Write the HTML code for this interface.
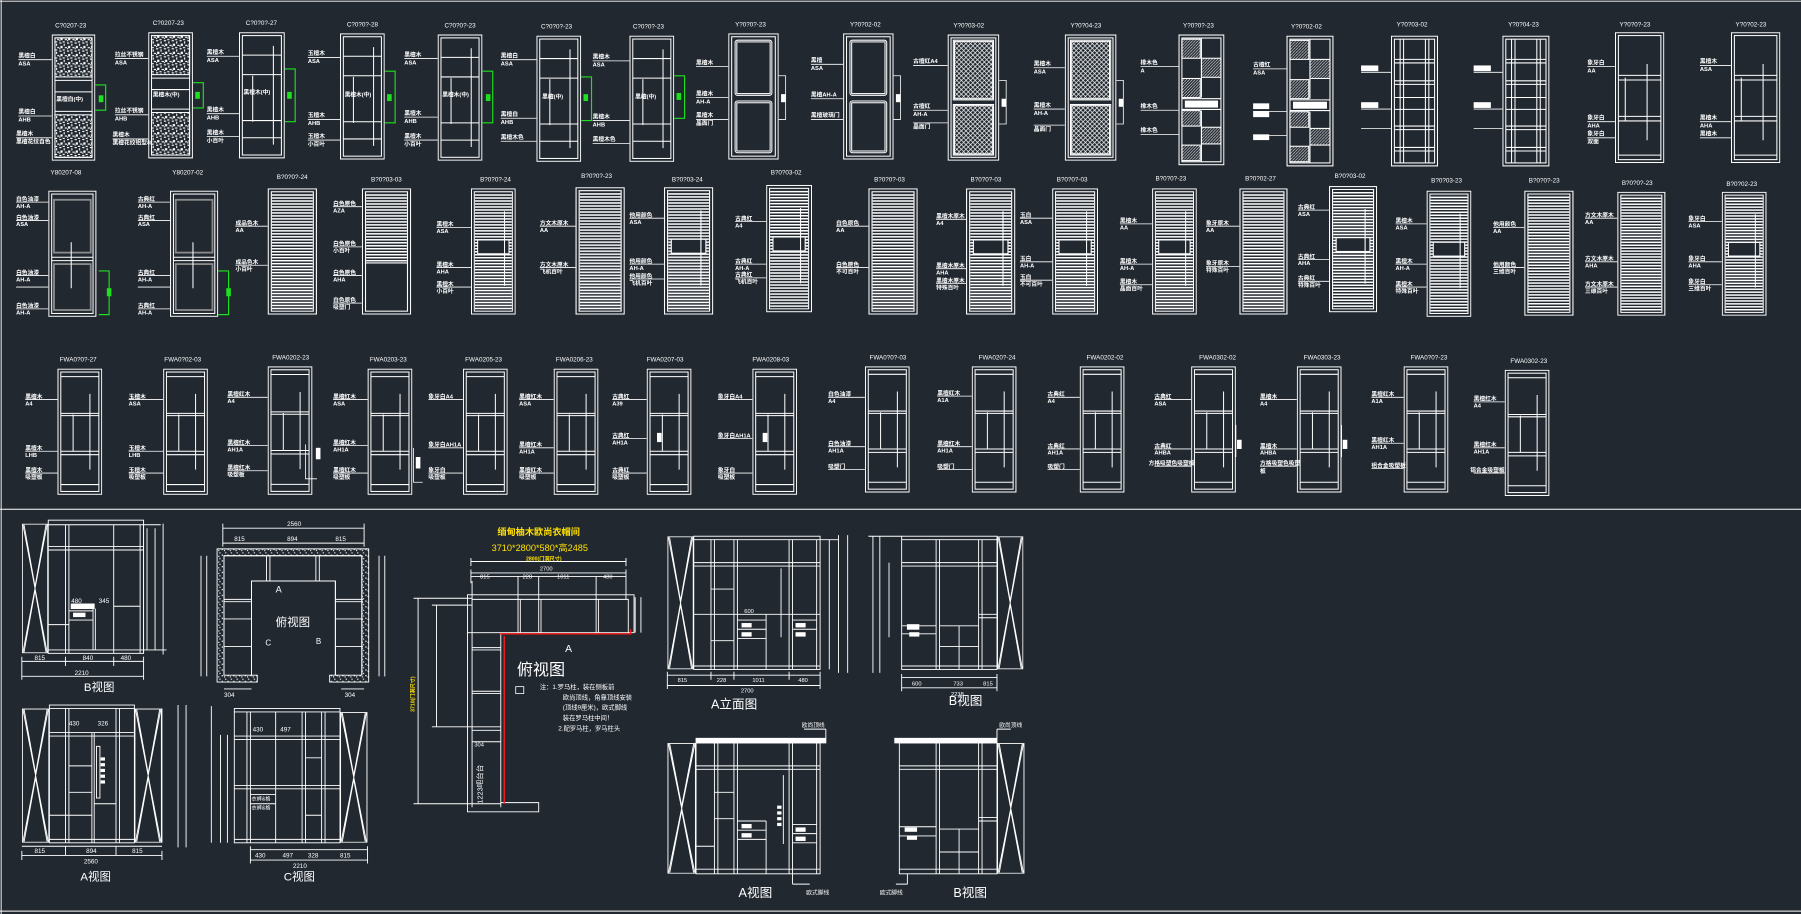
<!DOCTYPE html>
<html><head><meta charset="utf-8"><style>
html,body{margin:0;padding:0;background:#212830;}
svg{display:block}
text{font-family:"Liberation Sans","Noto Sans CJK SC",sans-serif;fill:#fff;}
</style></head><body>
<svg width="1801" height="914" viewBox="0 0 1568 796" preserveAspectRatio="none" xmlns="http://www.w3.org/2000/svg">
<defs>
<pattern id="stp" width="6" height="2.6" patternUnits="userSpaceOnUse"><rect width="6" height="1.3" fill="#fff"/></pattern>
<pattern id="ptex" width="7" height="7" patternUnits="userSpaceOnUse"><rect x="0" y="0" width="2" height="1" fill="#fff"/><rect x="4" y="1" width="1" height="2" fill="#fff"/><rect x="1" y="3" width="2" height="2" fill="#fff"/><rect x="5" y="4" width="2" height="1" fill="#fff"/><rect x="3" y="6" width="2" height="1" fill="#fff"/><rect x="0" y="5" width="1" height="1" fill="#fff"/></pattern>
<pattern id="plat" width="4" height="4" patternUnits="userSpaceOnUse"><path d="M0 0L4 4M4 0L0 4" stroke="#fff" stroke-width="0.6"/></pattern>
<pattern id="hat" width="2.5" height="2.5" patternUnits="userSpaceOnUse"><path d="M0 2.5L2.5 0" stroke="#fff" stroke-width="0.5"/></pattern>
<pattern id="dot" width="5" height="5" patternUnits="userSpaceOnUse"><rect x="1" y="1" width="1" height="1" fill="#fff"/><rect x="3" y="3" width="1.2" height="1" fill="#fff"/><rect x="0" y="4" width="1" height="1" fill="#fff"/></pattern>

<symbol id="frame" viewBox="0 0 40 110" preserveAspectRatio="none"><g fill="none" stroke="#fff" stroke-width="0.9">
<rect x="0.5" y="0.5" width="39" height="109"/><rect x="3" y="3" width="34" height="104"/>
<path d="M3 20H37M3 37H37M3 77H37M3 92H37M30 12V98M12 38V78"/></g></symbol>

<symbol id="sTex" viewBox="0 0 40 110" preserveAspectRatio="none"><g fill="none" stroke="#fff" stroke-width="0.9">
<rect x="0.5" y="0.5" width="39" height="109"/><rect x="3" y="3" width="34" height="104"/>
<rect x="3" y="3" width="34" height="34" fill="url(#ptex)"/><rect x="3" y="70" width="34" height="37" fill="url(#ptex)"/>
<path d="M3 40H37M3 50H37M3 67H37"/></g></symbol>

<symbol id="pan2" viewBox="0 0 44 110" preserveAspectRatio="none"><g fill="none" stroke="#fff" stroke-width="0.9">
<rect x="0.5" y="0.5" width="43" height="109"/><rect x="3" y="3" width="38" height="104"/>
<rect x="6" y="6" width="32" height="48" rx="2"/><rect x="7.5" y="7.5" width="29" height="45"/>
<rect x="6" y="59" width="32" height="45" rx="2"/><rect x="7.5" y="60.5" width="29" height="42"/></g></symbol>

<symbol id="pan2g" viewBox="0 0 42 110" preserveAspectRatio="none"><g fill="none" stroke="#fff" stroke-width="0.9">
<rect x="0.5" y="0.5" width="41" height="109"/><rect x="3" y="3" width="36" height="104"/>
<rect x="5" y="8" width="32" height="46" stroke="#8a8a8a" stroke-width="1.6"/><rect x="5" y="64" width="32" height="40" stroke="#8a8a8a" stroke-width="1.6"/>
<path d="M3 58H39M3 61H39M20 45V85"/></g></symbol>

<symbol id="lou" viewBox="0 0 40 110" preserveAspectRatio="none"><g fill="none" stroke="#fff" stroke-width="0.9">
<rect x="0.5" y="0.5" width="39" height="109"/><rect x="3" y="3" width="34" height="104"/>
<rect x="3.5" y="4" width="33" height="102" fill="url(#stp)" stroke="none"/></g></symbol>

<symbol id="louh" viewBox="0 0 40 110" preserveAspectRatio="none"><g fill="none" stroke="#fff" stroke-width="0.9">
<rect x="0.5" y="0.5" width="39" height="109"/><rect x="3" y="3" width="34" height="104"/>
<rect x="3.5" y="4" width="33" height="60" fill="url(#stp)" stroke="none"/><path d="M3 65H37"/></g></symbol>

<symbol id="loub" viewBox="0 0 40 110" preserveAspectRatio="none"><g fill="none" stroke="#fff" stroke-width="0.9">
<rect x="0.5" y="0.5" width="39" height="109"/><rect x="3" y="3" width="34" height="104"/>
<rect x="3.5" y="4" width="33" height="102" fill="url(#stp)" stroke="none"/>
<rect x="6" y="45" width="28" height="12" fill="#212830"/><path d="M30 20V85"/></g></symbol>

<symbol id="sLat" viewBox="0 0 45 110" preserveAspectRatio="none"><g fill="none" stroke="#fff" stroke-width="0.9">
<rect x="0.5" y="0.5" width="44" height="109"/><rect x="3" y="3" width="39" height="104"/>
<rect x="6" y="6" width="33" height="50" fill="url(#plat)"/><rect x="6" y="62" width="33" height="42" fill="url(#plat)"/>
<rect x="5" y="5" width="35" height="52"/><rect x="5" y="61" width="35" height="44"/></g></symbol>

<symbol id="chk" viewBox="0 0 40 110" preserveAspectRatio="none"><g fill="none" stroke="#fff" stroke-width="0.9">
<rect x="0.5" y="0.5" width="39" height="109"/><rect x="3" y="3" width="34" height="104"/>
<rect x="3" y="4" width="16" height="16" fill="url(#hat)"/><rect x="20" y="20" width="17" height="16" fill="url(#hat)"/><rect x="3" y="37" width="16" height="16" fill="url(#hat)"/>
<rect x="3" y="64" width="16" height="13" fill="url(#hat)"/><rect x="20" y="78" width="17" height="14" fill="url(#hat)"/><rect x="3" y="93" width="16" height="13" fill="url(#hat)"/>
<path d="M20 3V53M20 64V107M3 54H37M3 63H37"/><rect x="6" y="56" width="28" height="5" fill="#fff"/></g></symbol>

<symbol id="grd" viewBox="0 0 41 110" preserveAspectRatio="none"><g fill="none" stroke="#fff" stroke-width="0.9">
<rect x="0.5" y="0.5" width="40" height="109"/><rect x="3" y="3" width="35" height="104"/>
<path d="M8 3V107M11 3V107M30 3V107M33 3V107M3 20H38M3 23H38M3 38H38M3 41H38M3 52H38M3 62H38M3 76H38M3 79H38M3 94H38M3 97H38"/></g></symbol>

<symbol id="pln" viewBox="0 0 43 115" preserveAspectRatio="none"><g fill="none" stroke="#fff" stroke-width="0.9">
<rect x="0.5" y="0.5" width="42" height="114"/><rect x="3" y="3" width="37" height="109"/>
<path d="M3 38H40M3 42H40M3 74H40M3 78H40M3 108H40M28 28V95M9 40V78"/></g></symbol>

<symbol id="r3" viewBox="0 0 40 110" preserveAspectRatio="none"><g fill="none" stroke="#fff" stroke-width="0.9">
<rect x="0.5" y="0.5" width="39" height="109"/><rect x="3" y="3" width="34" height="104"/>
<path d="M3 7H37M3 39H37M3 41H37M3 72H37M3 75H37M3 101H37M29 22V88M14 40V72"/></g></symbol>

<symbol id="xp" viewBox="0 0 24 120" preserveAspectRatio="none"><g fill="none" stroke="#fff" stroke-width="0.8" vector-effect="non-scaling-stroke">
<rect x="0.5" y="0.5" width="23" height="119"/><path d="M1 1L12 60L23 1M1 119L12 60L23 119M2 1L12 58L22 1M2 119L12 62L22 119"/></g></symbol>
</defs>

<rect width="1568" height="796" fill="#212830"/>
<g stroke="#fff" stroke-width="0.8" fill="none">
<path d="M0 1H1568M1 0V796M0 443.5H1568M0 793.5H1568"/>
</g>

<!-- ROW 1 -->
<use href="#sTex" x="45" y="30" width="38" height="110"/>
<use href="#sTex" x="129" y="28" width="39" height="110"/>
<use href="#frame" x="208" y="28" width="40" height="110"/>
<use href="#frame" x="296" y="29" width="39" height="110"/>
<use href="#frame" x="381" y="30" width="39" height="110"/>
<use href="#frame" x="467" y="31" width="39" height="110"/>
<use href="#frame" x="548" y="31" width="39" height="110"/>
<use href="#pan2" x="634" y="29" width="44" height="110"/>
<use href="#pan2" x="734" y="29" width="44" height="110"/>
<use href="#sLat" x="825" y="30" width="45" height="110"/>
<use href="#sLat" x="927" y="30" width="45" height="110"/>
<use href="#chk" x="1026" y="30" width="40" height="114"/>
<use href="#chk" x="1120" y="31" width="41" height="114"/>
<use href="#grd" x="1211" y="31" width="41" height="114"/>
<use href="#grd" x="1308" y="31" width="41" height="114"/>
<use href="#pln" x="1406" y="28" width="43" height="114"/>
<use href="#pln" x="1507" y="28" width="43" height="114"/>
<!-- green brackets -->
<g stroke="#1fe01f" stroke-width="1" fill="none">
<path d="M83 74H92V96H83"/><path d="M168 72H177V94H168"/><path d="M248 60H257V106H248"/><path d="M335 62H344V107H335"/><path d="M420 62H429V107H420"/><path d="M506 67H515V105H506"/><path d="M587 66H596V103H587"/>
<path d="M86 236H95V274H86"/><path d="M190 236H199V274H190"/>
</g>
<g fill="#1fe01f"><rect x="86" y="83" width="4" height="6"/><rect x="170" y="80" width="4" height="6"/><rect x="250" y="80" width="4" height="6"/><rect x="337" y="82" width="4" height="6"/><rect x="423" y="82" width="4" height="6"/><rect x="508" y="82" width="4" height="6"/><rect x="589" y="81" width="4" height="6"/><rect x="93" y="251" width="4" height="7"/><rect x="197" y="251" width="4" height="7"/></g>
<g stroke="#fff" stroke-width="0.7" fill="none"><path d="M678 66H684V104H678M778 66H784V104H778M870 70H876V108H870M972 70H978V108H972"/></g>
<g fill="#fff"><rect x="680" y="82" width="4" height="7"/><rect x="780" y="82" width="4" height="7"/><rect x="872" y="86" width="4" height="7"/><rect x="974" y="86" width="4" height="7"/></g>

<g font-size="5.5">
<text x="48" y="24">C?0207-23</text><text x="133" y="22">C?0207-23</text><text x="214" y="22">C?0?0?-27</text><text x="302" y="23">C?0?0?-28</text><text x="387" y="24">C?0?0?-23</text><text x="471" y="25">C?0?0?-23</text><text x="551" y="25">C?0?0?-23</text><text x="640" y="23">Y?0?0?-23</text><text x="740" y="23">Y?0?02-02</text><text x="830" y="24">Y?0?03-02</text><text x="932" y="24">Y?0?04-23</text><text x="1030" y="24">Y?0?0?-23</text><text x="1124" y="25">Y?0?02-02</text><text x="1216" y="23">Y?0?03-02</text><text x="1313" y="23">Y?0?04-23</text><text x="1410" y="23">Y?0?0?-23</text><text x="1511" y="23">Y?0?02-23</text>
</g>
<!-- row1 leaders/labels -->
<g stroke="#fff" stroke-width="0.7" fill="none">
<path d="M16 52H45M16 101H45M14 120H45M100 51H129M100 100H129M98 121H129M180 49H208M180 99H208M180 119H208M268 50H296M268 104H296M268 122H296M352 51H381M352 102H381M352 122H381M436 52H467M436 103H467M436 123H467M516 53H548M516 105H548M516 125H548M606 58H634M606 85H634M606 104H634M706 56H734M706 86H734M706 104H734M795 57H825M795 96H825M795 107H825M900 59H927M900 95H927M900 109H927M993 58H1026M993 96H1026M993 117H1026M1091 60H1120M1091 97H1120M1091 118H1120M1185 63H1211M1185 95H1211M1185 112H1211M1283 63H1308M1283 95H1308M1283 112H1308M1382 58H1406M1382 106H1406M1382 120H1406M1480 57H1507M1480 106H1507M1480 120H1507"/>
</g>
<g font-size="5" font-weight="bold">
<text x="16" y="50">黑檀白</text><text x="16" y="57">ASA</text><text x="16" y="99">黑檀白</text><text x="16" y="106">AHB</text><text x="14" y="118">黑檀木</text><text x="14" y="125">黑檀花纹自色</text>
<text x="100" y="49">拉丝不锈钢</text><text x="100" y="56">ASA</text><text x="100" y="98">拉丝不锈钢</text><text x="100" y="105">AHB</text><text x="98" y="119">黑檀木</text><text x="98" y="126">黑檀花纹铝型材</text>
<text x="180" y="47">黑檀木</text><text x="180" y="54">ASA</text><text x="180" y="97">黑檀木</text><text x="180" y="104">AHB</text><text x="180" y="117">黑檀木</text><text x="180" y="124">小百叶</text>
<text x="268" y="48">玉檀木</text><text x="268" y="55">ASA</text><text x="268" y="102">玉檀木</text><text x="268" y="109">AHB</text><text x="268" y="120">玉檀木</text><text x="268" y="127">小百叶</text>
<text x="352" y="49">黑檀木</text><text x="352" y="56">ASA</text><text x="352" y="100">黑檀木</text><text x="352" y="107">AHB</text><text x="352" y="120">黑檀木</text><text x="352" y="127">小百叶</text>
<text x="436" y="50">黑檀白</text><text x="436" y="57">ASA</text><text x="436" y="101">黑檀白</text><text x="436" y="108">AHB</text><text x="436" y="121">黑檀木色</text>
<text x="516" y="51">黑檀木</text><text x="516" y="58">ASA</text><text x="516" y="103">黑檀木</text><text x="516" y="110">AHB</text><text x="516" y="123">黑檀木色</text>
<text x="606" y="56">黑檀木</text><text x="606" y="83">黑檀木</text><text x="606" y="90">AH-A</text><text x="606" y="102">黑檀木</text><text x="606" y="109">晶面门</text>
<text x="706" y="54">黑檀</text><text x="706" y="61">ASA</text><text x="706" y="84">黑檀AH-A</text><text x="706" y="102">黑檀玻璃门</text>
<text x="795" y="55">古檀红A4</text><text x="795" y="94">古檀红</text><text x="795" y="101">AH-A</text><text x="795" y="112">晶面门</text>
<text x="900" y="57">黑檀木</text><text x="900" y="64">ASA</text><text x="900" y="93">黑檀木</text><text x="900" y="100">AH-A</text><text x="900" y="114">晶面门</text>
<text x="993" y="56">橡木色</text><text x="993" y="63">A</text><text x="993" y="94">橡木色</text><text x="993" y="115">橡木色</text>
<text x="1091" y="58">古檀红</text><text x="1091" y="65">ASA</text><text x="1382" y="56">象牙白</text><text x="1382" y="63">AA</text><text x="1382" y="104">象牙白</text><text x="1382" y="111">AHA</text><text x="1382" y="118">象牙白</text><text x="1382" y="125">双面</text>
<text x="1480" y="55">黑檀木</text><text x="1480" y="62">ASA</text><text x="1480" y="104">黑檀木</text><text x="1480" y="111">AHA</text><text x="1480" y="118">黑檀木</text>
</g>
<g fill="#fff"><rect x="1185" y="57" width="15" height="5"/><rect x="1185" y="89" width="15" height="5"/><rect x="1283" y="57" width="15" height="5"/><rect x="1283" y="89" width="15" height="5"/><rect x="1091" y="90" width="14" height="5"/><rect x="1091" y="97" width="14" height="5"/><rect x="1091" y="117" width="14" height="5"/></g>
<g font-size="5" font-weight="bold"><text x="49" y="88">黑檀白(中)</text><text x="133" y="84">黑檀木(中)</text><text x="212" y="82">黑檀木(中)</text><text x="300" y="84">黑檀木(中)</text><text x="385" y="84">黑檀木(中)</text><text x="472" y="86">黑檀(中)</text><text x="553" y="86">黑檀(中)</text></g>

<!-- ROW 2 -->
<use href="#pan2g" x="42" y="166" width="42" height="110"/>
<use href="#pan2g" x="148" y="166" width="42" height="110"/>
<use href="#lou" x="233" y="164" width="43" height="110"/>
<use href="#louh" x="315" y="164" width="43" height="110"/>
<use href="#loub" x="410" y="164" width="39" height="110"/>
<use href="#lou" x="501" y="163" width="43" height="111"/>
<use href="#loub" x="578" y="163" width="43" height="111"/>
<use href="#loub" x="667" y="161" width="40" height="111"/>
<use href="#lou" x="756" y="164" width="43" height="110"/>
<use href="#loub" x="841" y="164" width="43" height="110"/>
<use href="#loub" x="916" y="164" width="40" height="110"/>
<use href="#loub" x="1003" y="164" width="39" height="110"/>
<use href="#lou" x="1079" y="164" width="42" height="110"/>
<use href="#loub" x="1157" y="162" width="42" height="110"/>
<use href="#loub" x="1242" y="166" width="39" height="110"/>
<use href="#lou" x="1327" y="166" width="43" height="109"/>
<use href="#lou" x="1408" y="167" width="42" height="108"/>
<use href="#loub" x="1499" y="167" width="39" height="108"/>
<g font-size="5.5">
<text x="44" y="152">Y80207-08</text><text x="150" y="152">Y80207-02</text><text x="241" y="156">B?0?0?-24</text><text x="323" y="158">B?0?03-03</text><text x="418" y="158">B?0?0?-24</text><text x="506" y="155">B?0?0?-23</text><text x="585" y="158">B?0?03-24</text><text x="671" y="152">B?0?03-02</text><text x="761" y="158">B?0?0?-03</text><text x="845" y="158">B?0?0?-03</text><text x="920" y="158">B?0?0?-03</text><text x="1006" y="157">B?0?0?-23</text><text x="1084" y="157">B?0?02-27</text><text x="1162" y="155">B?0?03-02</text><text x="1246" y="159">B?0?03-23</text><text x="1331" y="159">B?0?0?-23</text><text x="1412" y="161">B?0?0?-23</text><text x="1503" y="162">B?0?02-23</text>
</g>
<g stroke="#fff" stroke-width="0.7" fill="none">
<path d="M14 176H42M14 192H42M14 240H42M14 250H42M14 269H42M120 176H148M120 192H148M120 240H148M120 250H148M120 269H148M205 197H233M205 231H233M290 180H315M290 215H315M290 240H315M290 264H315M380 198H410M380 233H410M380 250H410M470 197H501M470 233H501M548 190H578M548 230H578M548 243H578M640 193H667M640 230H667M640 242H667M728 197H756M728 233H756M815 191H841M815 234H841M815 247H841M888 190H916M888 228H916M888 244H916M975 195H1003M975 230H1003M975 248H1003M1050 197H1079M1050 232H1079M1130 183H1157M1130 226H1157M1130 245H1157M1215 195H1242M1215 230H1242M1215 250H1242M1300 198H1327M1300 233H1327M1380 190H1408M1380 228H1408M1380 250H1408M1470 193H1499M1470 228H1499M1470 248H1499"/>
</g>
<g font-size="5" font-weight="bold">
<text x="14" y="175">白色油漆</text><text x="14" y="181">AH-A</text><text x="14" y="191">白色油漆</text><text x="14" y="197">ASA</text><text x="14" y="239">白色油漆</text><text x="14" y="245">AH-A</text><text x="14" y="268">白色油漆</text><text x="14" y="274">AH-A</text>
<text x="120" y="175">古典红</text><text x="120" y="181">AH-A</text><text x="120" y="191">古典红</text><text x="120" y="197">ASA</text><text x="120" y="239">古典红</text><text x="120" y="245">AH-A</text><text x="120" y="268">古典红</text><text x="120" y="274">AH-A</text>
<text x="205" y="196">成品色木</text><text x="205" y="202">AA</text><text x="205" y="230">成品色木</text><text x="205" y="236">小百叶</text>
<text x="290" y="179">白色原色</text><text x="290" y="185">AZA</text><text x="290" y="214">白色原色</text><text x="290" y="220">小百叶</text><text x="290" y="239">白色原色</text><text x="290" y="245">AHA</text><text x="290" y="263">白色原色</text><text x="290" y="269">吸塑门</text>
<text x="380" y="197">黑檀木</text><text x="380" y="203">ASA</text><text x="380" y="232">黑檀木</text><text x="380" y="238">AHA</text><text x="380" y="249">黑檀木</text><text x="380" y="255">小百叶</text>
<text x="470" y="196">方文木原木</text><text x="470" y="202">AA</text><text x="470" y="232">方文木原木</text><text x="470" y="238">飞机百叶</text>
<text x="548" y="189">他用颜色</text><text x="548" y="195">ASA</text><text x="548" y="229">他用颜色</text><text x="548" y="235">AH-A</text><text x="548" y="242">他用颜色</text><text x="548" y="248">飞机百叶</text>
<text x="640" y="192">古典红</text><text x="640" y="198">A4</text><text x="640" y="229">古典红</text><text x="640" y="235">AH-A</text><text x="640" y="241">古典红</text><text x="640" y="247">飞机百叶</text>
<text x="728" y="196">白色原色</text><text x="728" y="202">AA</text><text x="728" y="232">白色原色</text><text x="728" y="238">不可百叶</text>
<text x="815" y="190">黑檀木原木</text><text x="815" y="196">A4</text><text x="815" y="233">黑檀木原木</text><text x="815" y="239">AHA</text><text x="815" y="246">黑檀木原木</text><text x="815" y="252">特殊百叶</text>
<text x="888" y="189">玉白</text><text x="888" y="195">ASA</text><text x="888" y="227">玉白</text><text x="888" y="233">AH-A</text><text x="888" y="243">玉白</text><text x="888" y="249">不可百叶</text>
<text x="975" y="194">黑檀木</text><text x="975" y="200">AA</text><text x="975" y="229">黑檀木</text><text x="975" y="235">AH-A</text><text x="975" y="247">黑檀木</text><text x="975" y="253">晶面百叶</text>
<text x="1050" y="196">象牙原木</text><text x="1050" y="202">AA</text><text x="1050" y="231">象牙原木</text><text x="1050" y="237">特殊百叶</text>
<text x="1130" y="182">古典红</text><text x="1130" y="188">ASA</text><text x="1130" y="225">古典红</text><text x="1130" y="231">AHA</text><text x="1130" y="244">古典红</text><text x="1130" y="250">特殊百叶</text>
<text x="1215" y="194">黑檀木</text><text x="1215" y="200">ASA</text><text x="1215" y="229">黑檀木</text><text x="1215" y="235">AH-A</text><text x="1215" y="249">黑檀木</text><text x="1215" y="255">特殊百叶</text>
<text x="1300" y="197">他用颜色</text><text x="1300" y="203">AA</text><text x="1300" y="232">他用颜色</text><text x="1300" y="238">三维百叶</text>
<text x="1380" y="189">方文木原木</text><text x="1380" y="195">AA</text><text x="1380" y="227">方文木原木</text><text x="1380" y="233">AHA</text><text x="1380" y="249">方文木原木</text><text x="1380" y="255">三维百叶</text>
<text x="1470" y="192">象牙白</text><text x="1470" y="198">ASA</text><text x="1470" y="227">象牙白</text><text x="1470" y="233">AHA</text><text x="1470" y="247">象牙白</text><text x="1470" y="253">三维百叶</text>
</g>

<!-- ROW 3 -->
<g>
<use href="#r3" x="50" y="321" width="39" height="110"/><use href="#r3" x="142" y="321" width="39" height="110"/><use href="#r3" x="233" y="319" width="39" height="112"/><use href="#r3" x="320" y="321" width="39" height="110"/><use href="#r3" x="403" y="321" width="39" height="110"/><use href="#r3" x="482" y="321" width="39" height="110"/><use href="#r3" x="563" y="321" width="39" height="110"/><use href="#r3" x="655" y="321" width="39" height="110"/><use href="#r3" x="753" y="319" width="39" height="110"/><use href="#r3" x="846" y="319" width="39" height="110"/><use href="#r3" x="940" y="319" width="39" height="110"/><use href="#r3" x="1037" y="319" width="39" height="110"/><use href="#r3" x="1129" y="319" width="39" height="110"/><use href="#r3" x="1222" y="319" width="39" height="110"/><use href="#r3" x="1310" y="322" width="39" height="110"/>
</g>
<g font-size="5.5">
<text x="52" y="315">FWA0?0?-27</text><text x="143" y="315">FWA0?02-03</text><text x="237" y="313">FWA0202-23</text><text x="322" y="315">FWA0203-23</text><text x="405" y="315">FWA0205-23</text><text x="484" y="315">FWA0206-23</text><text x="563" y="315">FWA0207-03</text><text x="655" y="315">FWA0208-03</text><text x="757" y="313">FWA0?0?-03</text><text x="852" y="313">FWA020?-24</text><text x="946" y="313">FWA0202-02</text><text x="1044" y="313">FWA0302-02</text><text x="1135" y="313">FWA0303-23</text><text x="1228" y="313">FWA0?0?-23</text><text x="1315" y="316">FWA0302-23</text>
</g>
<g stroke="#fff" stroke-width="0.7" fill="none">
<path d="M22 348H50M22 393H50M22 412H50M112 348H142M112 393H142M112 412H142M198 346H233M198 388H233M198 410H233M290 348H320M290 388H320M290 412H320M373 348H403M373 390H403M373 412H403M452 348H482M452 390H482M452 412H482M533 348H563M533 382H563M533 412H563M625 348H655M625 382H655M625 412H655M721 346H753M721 389H753M721 409H753M816 345H846M816 389H846M816 409H846M912 346H940M912 391H940M912 409H940M1005 348H1037M1005 391H1037M1005 406H1037M1097 348H1129M1097 391H1129M1097 406H1129M1194 346H1222M1194 386H1222M1194 408H1222M1283 350H1310M1283 390H1310M1283 412H1310"/>
<path d="M266 387V417H276M360 390V420H368M1076 370V398M1168 370V398"/>
</g>
<g fill="#fff"><rect x="275" y="390" width="4" height="10"/><rect x="362" y="398" width="4" height="10"/><rect x="1077" y="383" width="4" height="8"/><rect x="1169" y="383" width="4" height="8"/><rect x="664" y="377" width="4" height="8"/><rect x="572" y="377" width="4" height="8"/></g>
<g font-size="5" font-weight="bold">
<text x="22" y="347">黑檀木</text><text x="22" y="353">A4</text><text x="22" y="392">黑檀木</text><text x="22" y="398">LHB</text><text x="22" y="411">黑檀木</text><text x="22" y="417">吸塑板</text>
<text x="112" y="347">玉檀木</text><text x="112" y="353">ASA</text><text x="112" y="392">玉檀木</text><text x="112" y="398">LHB</text><text x="112" y="411">玉檀木</text><text x="112" y="417">吸塑板</text>
<text x="198" y="345">黑檀红木</text><text x="198" y="351">A4</text><text x="198" y="387">黑檀红木</text><text x="198" y="393">AH1A</text><text x="198" y="409">黑檀红木</text><text x="198" y="415">吸塑板</text>
<text x="290" y="347">黑檀红木</text><text x="290" y="353">ASA</text><text x="290" y="387">黑檀红木</text><text x="290" y="393">AH1A</text><text x="290" y="411">黑檀红木</text><text x="290" y="417">吸塑板</text>
<text x="373" y="347">象牙白A4</text><text x="373" y="389">象牙白AH1A</text><text x="373" y="411">象牙白</text><text x="373" y="417">吸塑板</text>
<text x="452" y="347">黑檀红木</text><text x="452" y="353">ASA</text><text x="452" y="389">黑檀红木</text><text x="452" y="395">AH1A</text><text x="452" y="411">黑檀红木</text><text x="452" y="417">吸塑板</text>
<text x="533" y="347">古典红</text><text x="533" y="353">A39</text><text x="533" y="381">古典红</text><text x="533" y="387">AH1A</text><text x="533" y="411">古典红</text><text x="533" y="417">吸塑板</text>
<text x="625" y="347">象牙白A4</text><text x="625" y="381">象牙白AH1A</text><text x="625" y="411">象牙白</text><text x="625" y="417">吸塑板</text>
<text x="721" y="345">白色油漆</text><text x="721" y="351">A4</text><text x="721" y="388">白色油漆</text><text x="721" y="394">AH1A</text><text x="721" y="408">吸塑门</text>
<text x="816" y="344">黑檀红木</text><text x="816" y="350">A1A</text><text x="816" y="388">黑檀红木</text><text x="816" y="394">AH1A</text><text x="816" y="408">吸塑门</text>
<text x="912" y="345">古典红</text><text x="912" y="351">A4</text><text x="912" y="390">古典红</text><text x="912" y="396">AH1A</text><text x="912" y="408">吸塑门</text>
<text x="1005" y="347">古典红</text><text x="1005" y="353">ASA</text><text x="1005" y="390">古典红</text><text x="1005" y="396">AHBA</text><text x="1000" y="405">方格吸塑色吸塑板</text>
<text x="1097" y="347">黑檀木</text><text x="1097" y="353">A4</text><text x="1097" y="390">黑檀木</text><text x="1097" y="396">AHBA</text><text x="1097" y="405">方格吸塑色吸塑</text><text x="1097" y="412">板</text>
<text x="1194" y="345">黑檀红木</text><text x="1194" y="351">A1A</text><text x="1194" y="385">黑檀红木</text><text x="1194" y="391">AH1A</text><text x="1194" y="407">铝合金吸塑板</text>
<text x="1283" y="349">黑檀红木</text><text x="1283" y="355">A4</text><text x="1283" y="389">黑檀红木</text><text x="1283" y="395">AH1A</text><text x="1280" y="411">铝合金吸塑板</text>
</g>

<!-- BOTTOM LEFT: B视图 -->
<g stroke="#fff" stroke-width="0.8" fill="none">
<use href="#xp" x="19" y="456" width="23" height="113"/>
<rect x="42" y="453" width="83" height="116"/>
<path d="M42 457H125M57 457V569M60 457V569M99 457V569M122 457V569M125 457V569M42 476H125M42 479H125M99 528H122M42 544H60M42 566H125M60 532H81M60 540H81M81 530V566M83 530V566"/>
<rect x="62" y="526" width="20" height="4" fill="#fff"/><rect x="64" y="534" width="10" height="3" fill="#fff"/>
<path d="M125 457H140M128 460V566M135 460V566M142 456V570M125 566H145M19 576H125M19 589H125M19 572V592M125 572V592M57 572V580M99 572V580"/>
</g>
<g font-size="5.5"><text x="30" y="575">815</text><text x="72" y="575">840</text><text x="105" y="575">480</text><text x="65" y="588">2210</text><text x="62" y="525">480</text><text x="86" y="525">345</text></g>
<text x="73" y="602" font-size="10">B视图</text>

<!-- 俯视图 U -->
<g stroke="#fff" stroke-width="0.8" fill="none">
<path d="M189 478H321V594H287V588H292V506H219V588H224V594H189Z" fill="url(#dot)"/>
<path d="M195 484H315V588H292V506H219V588H195Z" fill="#212830"/>
<path d="M195 484H315M195 484V588M315 484V588M219 506H292M219 506V588M292 506V588M232 484V506M235 484V506M275 484V506M278 484V506M195 522H219M195 524H219M195 539H219M195 563H219M292 522H316M292 524H316M292 539H316M292 563H316"/>
<path d="M194 460H317M194 473H317M194 456V476M317 456V476M175 484V589M180 484V589M330 484V589M335 484V589M195 600H219M297 600H317"/>
</g>
<g font-size="5.5"><text x="250" y="458">2560</text><text x="204" y="471">815</text><text x="250" y="471">894</text><text x="292" y="471">815</text><text x="195" y="607">304</text><text x="300" y="607">304</text></g>
<text x="240" y="516" font-size="8">A</text><text x="240" y="545" font-size="10">俯视图</text><text x="231" y="562" font-size="7">C</text><text x="275" y="561" font-size="7">B</text>

<!-- A视图 left -->
<g stroke="#fff" stroke-width="0.8" fill="none">
<use href="#xp" x="19" y="617" width="24" height="117"/>
<use href="#xp" x="117" y="617" width="24" height="117"/>
<rect x="43" y="614" width="74" height="120"/>
<path d="M43 617H117M57 617V734M60 617V734M101 617V734M104 617V734M43 638H117M43 641H117M60 667H80M60 690H80M43 710H80M80 638V734M82 638V734M82 700H101M43 731H117M141 617V734M155 614V738M162 614V738M19 737H141M19 745H141M19 741V749M141 741V749M57 737V745M101 737V745"/>
<rect x="84" y="650" width="3" height="45"/>
<rect x="88" y="660" width="3" height="2" fill="#fff"/><rect x="88" y="665" width="3" height="2" fill="#fff"/><rect x="88" y="670" width="3" height="2" fill="#fff"/><rect x="88" y="675" width="3" height="2" fill="#fff"/><rect x="88" y="680" width="3" height="2" fill="#fff"/>
</g>
<g font-size="5.5"><text x="30" y="743">815</text><text x="75" y="743">894</text><text x="115" y="743">815</text><text x="73" y="752">2560</text><text x="60" y="632">430</text><text x="85" y="632">326</text></g>
<text x="70" y="767" font-size="10">A视图</text>

<!-- C视图 -->
<g stroke="#fff" stroke-width="0.8" fill="none">
<use href="#xp" x="296" y="620" width="24" height="114"/>
<rect x="204" y="617" width="92" height="117"/>
<path d="M204 620H296M215 620V734M218 620V734M240 620V734M263 620V734M266 620V734M280 620V734M283 620V734M204 641H296M204 644H296M204 684H296M204 687H296M266 660H280M266 710H280M218 692H240M218 700H240M204 731H296M184 615V734M192 640V734M198 640V734M218 740H320M218 749H320M218 737V752M320 737V752"/>
</g>
<g font-size="5.5"><text x="222" y="747">430</text><text x="246" y="747">497</text><text x="268" y="747">328</text><text x="296" y="747">815</text><text x="255" y="756">2210</text><text x="220" y="637">430</text><text x="244" y="637">497</text><text x="219" y="697" font-size="4.5">衣裤&amp;格</text><text x="219" y="705" font-size="4.5">衣裤&amp;格</text></g>
<text x="247" y="767" font-size="10">C视图</text>

<!-- L-plan -->
<g font-size="8" fill="#ffe000" font-weight="bold">
<text x="433" y="466" style="fill:#ffe000">缅甸柚木欧尚衣帽间</text>
<text x="428" y="480" style="fill:#ffe000" font-weight="normal">3710*2800*580*高2485</text>
<text x="458" y="488" font-size="4.5" style="fill:#ffe000">2800(门洞尺寸)</text>
<text x="361" y="620" font-size="4.5" transform="rotate(-90 361 620)" style="fill:#ffe000">3710(门洞尺寸)</text>
</g>
<g stroke="#fff" stroke-width="0.8" fill="none">
<path d="M410 489H545M410 486V493M545 486V493M410 499H545M410 502H545M410 496V508M545 496V508M411 506V522M451 502V522M469 502V522M519 502V522M545 506V522"/>
<rect x="407" y="518" width="145" height="33"/>
<path d="M411 522H547V551M411 522V703M436 551V703M451 522V551M453 522V551M469 522V551M471 522V551M519 522V551M521 522V551M407 551V707H469V699H436M411 564H436M411 566H436M411 602H436M411 604H436M411 633H436M411 636H436M411 646H436"/>
<path d="M364 521V700M360 521H411M360 700H436M380 527V633M376 527H411M376 633H411M553 520V551M558 520V551"/>
</g>
<path d="M435 552H549V548M439 554V700" stroke="#ff1a1a" stroke-width="1.2" fill="none"/>
<g font-size="5"><text x="470" y="497">2700</text><text x="418" y="504">815</text><text x="455" y="504">228</text><text x="485" y="504">1011</text><text x="525" y="504">480</text><text x="413" y="650">304</text></g>
<text x="420" y="700" font-size="6.5" transform="rotate(-90 420 700)">1223吧台台</text>
<text x="492" y="568" font-size="9">A</text>
<text x="450" y="588" font-size="14">俯视图</text>
<rect x="449" y="598" width="7" height="6" fill="none" stroke="#fff" stroke-width="0.7"/>
<g font-size="5.5">
<text x="470" y="600">注：1.罗马柱，装在侧板前</text>
<text x="490" y="609">欧尚顶线，角靠顶线安装</text>
<text x="490" y="618">(顶线9厘米)，欧式脚线</text>
<text x="490" y="627">装在罗马柱中间！</text>
<text x="486" y="636">2.配罗马柱，罗马柱头</text>
</g>

<!-- A立面图 -->
<g stroke="#fff" stroke-width="0.8" fill="none">
<use href="#xp" x="581" y="467" width="23" height="116"/>
<rect x="604" y="467" width="110" height="116"/>
<path d="M604 470H714M619 470V583M622 470V583M639 470V583M642 470V583M687 470V583M690 470V583M711 470V583M604 490H714M604 493H714M619 513H639M604 535H714M619 558H639M642 540H667M642 548H667M642 556H667M690 540H711M690 548H711M667 535V583M680 495V555M604 580H714M714 470H730M722 470V583M730 466V586M738 466V586M581 588H714M581 597H714M581 585V600M714 585V600M619 585V592M639 585V592M687 585V592"/>
<rect x="646" y="543" width="8" height="3" fill="#fff"/><rect x="646" y="551" width="8" height="3" fill="#fff"/><rect x="693" y="543" width="8" height="3" fill="#fff"/><rect x="693" y="551" width="8" height="3" fill="#fff"/>
</g>
<g font-size="5"><text x="590" y="594">815</text><text x="624" y="594">228</text><text x="655" y="594">1011</text><text x="695" y="594">480</text><text x="645" y="603">2700</text><text x="648" y="534">600</text></g>
<text x="619" y="617" font-size="11">A立面图</text>

<!-- B视图 right -->
<g stroke="#fff" stroke-width="0.8" fill="none">
<use href="#xp" x="868" y="467" width="23" height="116"/>
<rect x="785" y="467" width="83" height="116"/>
<path d="M785 470H868M815 470V583M818 470V583M852 470V583M855 470V583M785 490H868M785 493H868M818 545H852M818 563H852M835 545V583M785 545H815M785 552H815M852 535H868M852 538H868M785 580H868M756 467H785M760 467V586M766 467V586M774 490V555M785 590H868M785 599H868M785 587V602M868 587V602"/>
<rect x="790" y="544" width="10" height="4" fill="#fff"/><rect x="792" y="551" width="8" height="3" fill="#fff"/>
</g>
<g font-size="5"><text x="794" y="597">600</text><text x="830" y="597">733</text><text x="856" y="597">815</text><text x="828" y="606">2238</text></g>
<text x="826" y="614" font-size="11">B视图</text>

<!-- A视图 bottom -->
<g stroke="#fff" stroke-width="0.8" fill="none">
<rect x="606" y="643" width="113" height="4" fill="#fff"/>
<use href="#xp" x="581" y="647" width="25" height="114"/>
<rect x="606" y="647" width="108" height="114"/>
<path d="M622 647V761M625 647V761M639 647V761M642 647V761M687 647V761M690 647V761M711 647V761M606 667H714M606 670H714M622 690H639M622 713H639M606 737H622M642 715H667M642 723H667M642 731H667M690 718H711M690 726H711M690 734H711M667 715V761M682 675V735M606 757H714M719 635V643M719 635H700M690 770V761M690 770H705"/>
<rect x="646" y="718" width="8" height="3" fill="#fff"/><rect x="646" y="726" width="8" height="3" fill="#fff"/><rect x="693" y="721" width="8" height="3" fill="#fff"/><rect x="693" y="729" width="8" height="3" fill="#fff"/>
<rect x="677" y="702" width="3" height="2" fill="#fff"/><rect x="677" y="707" width="3" height="2" fill="#fff"/><rect x="677" y="712" width="3" height="2" fill="#fff"/><rect x="677" y="717" width="3" height="2" fill="#fff"/>
</g>
<text x="643" y="781" font-size="11">A视图</text><g font-size="5"><text x="698" y="633">欧尚顶线</text><text x="702" y="779">欧式脚线</text></g>

<!-- B视图 bottom -->
<g stroke="#fff" stroke-width="0.8" fill="none">
<rect x="779" y="643" width="89" height="4" fill="#fff"/>
<use href="#xp" x="868" y="647" width="24" height="114"/>
<rect x="783" y="647" width="85" height="114"/>
<path d="M815 647V761M818 647V761M852 647V761M855 647V761M783 667H868M783 670H868M818 722H852M818 742H852M835 722V761M783 720H815M783 728H815M852 712H868M852 715H868M783 757H868M868 635V643M868 635H880M790 770V761M790 770H780"/>
<rect x="788" y="721" width="10" height="3" fill="#fff"/><rect x="790" y="728" width="8" height="3" fill="#fff"/>
</g>
<text x="830" y="781" font-size="11">B视图</text><g font-size="5"><text x="870" y="633">欧尚顶线</text><text x="766" y="779">欧式脚线</text></g>
</svg>
</body></html>
